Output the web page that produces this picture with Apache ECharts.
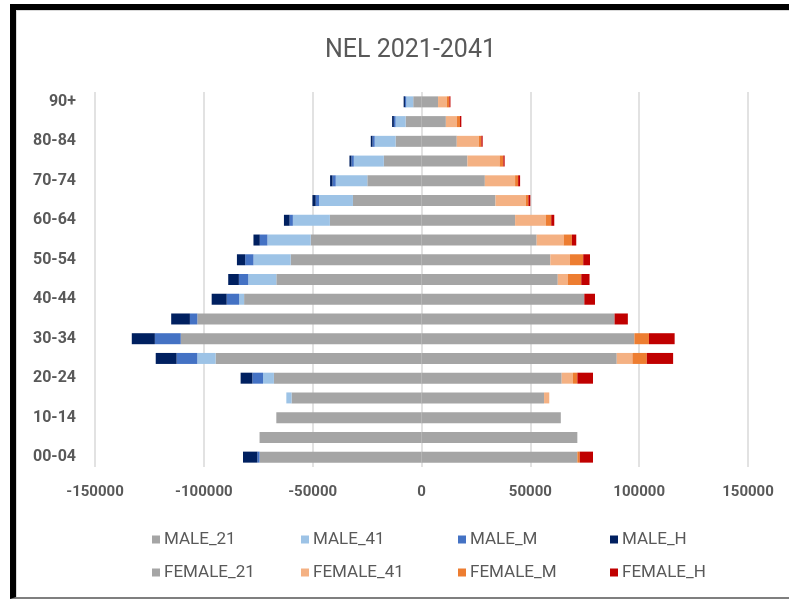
<!DOCTYPE html>
<html>
<head>
<meta charset="utf-8">
<script src="https://cdn.jsdelivr.net/npm/echarts@6/dist/echarts.min.js"></script>
<style>
  html, body { margin: 0; padding: 0; background: #fff; }
  #frame {
    position: absolute; left: 10px; top: 4px; width: 779px; height: 595px;
    border-left: 6px solid #000; border-top: 6px solid #000; border-bottom: 2px solid #7f7f7f;
    box-sizing: border-box;
  }
  #frame::after {
    content: ''; position: absolute; left: 0; top: 0; right: 0; bottom: 0;
    border-left: 1px solid #d9d9d9; border-top: 1px solid #d9d9d9;
  }
  #chart { position: absolute; left: 0; top: 0; width: 789px; height: 601px; }
</style>
</head>
<body>
<div id="frame"></div>
<div id="chart"></div>
<script>
// ── Datos (de 00-04 abajo a 90+ arriba) ─────────────────────────────────
const AGE_GROUPS = ['00-04', '05-09', '10-14', '15-19', '20-24', '25-29', '30-34', '35-39', '40-44',
  '45-49', '50-54', '55-59', '60-64', '65-69', '70-74', '75-79', '80-84', '85-89', '90+'];

const MALE_21 = [-74400, -74400, -66700, -59700, -67800, -94600, -110600, -103000, -81500,
  -66700, -60100, -50900, -42100, -31500, -24900, -17300, -11900, -7300, -3800];
const MALE_41 = [0, 0, 0, -2400, -5000, -8400, 0, 0, -2300,
  -12900, -17100, -19900, -17000, -15600, -14500, -13800, -9600, -4600, -3200];
const MALE_M = [-1000, 0, 0, 0, -4900, -9500, -11900, -3400, -5700,
  -4300, -3800, -3500, -1500, -1500, -1500, -1100, -1000, -800, -600];
const MALE_H = [-6600, 0, 0, 0, -5400, -9600, -10600, -8600, -6900,
  -4900, -3800, -2900, -2600, -1500, -1100, -900, -800, -800, -600];

const FEMALE_21 = [71600, 71600, 64000, 56300, 64400, 89700, 97800, 88700, 74800,
  62600, 59200, 52900, 43000, 34000, 29100, 21100, 16200, 11200, 7600];
const FEMALE_41 = [0, 0, 0, 2400, 5200, 7200, 0, 0, 0,
  4700, 9000, 12400, 14200, 13900, 13900, 14800, 10100, 5000, 4000];
const FEMALE_M = [1100, 0, 0, 0, 2000, 6600, 6700, 0, 0,
  6100, 6100, 3800, 2400, 1200, 1400, 1700, 1200, 1500, 1200];
const FEMALE_H = [6100, 0, 0, 0, 7200, 12100, 11800, 6100, 4900,
  3800, 3100, 2000, 1400, 900, 900, 600, 600, 600, 500];

const X_MIN = -150000, X_MAX = 150000, X_STEP = 50000;

// ── Estilo ──────────────────────────────────────────────────────────────
const FONT = "'Roboto', sans-serif";
const TEXT = '#595959';

const SERIES_DEF = [
  ['MALE_21', MALE_21, '#a5a5a5'],
  ['MALE_41', MALE_41, '#9dc3e6'],
  ['MALE_M', MALE_M, '#4472c4'],
  ['MALE_H', MALE_H, '#002060'],
  ['FEMALE_21', FEMALE_21, '#a5a5a5'],
  ['FEMALE_41', FEMALE_41, '#f4b183'],
  ['FEMALE_M', FEMALE_M, '#ed7d31'],
  ['FEMALE_H', FEMALE_H, '#c00000'],
];

// leyenda: 2 filas x 4 columnas, cada elemento en su propio componente
const LEGEND_COLS = [147, 296, 453, 605];
const LEGEND_ROWS = [526, 559];

const chart = echarts.init(document.getElementById('chart'), null, { renderer: 'canvas' });

chart.setOption({
  animation: false,
  textStyle: { fontFamily: FONT },
  title: {
    text: 'NEL 2021-2041',
    left: 320, top: 33,
    textStyle: { fontFamily: FONT, fontSize: 25, fontWeight: 'normal', color: TEXT },
  },
  legend: SERIES_DEF.map(([name], i) => ({
    data: [name],
    left: LEGEND_COLS[i % 4],
    top: LEGEND_ROWS[Math.floor(i / 4)],
    icon: 'rect',
    itemWidth: 8,
    itemHeight: 8,
    itemGap: 5,
    selectedMode: false,
    textStyle: { fontFamily: FONT, fontSize: 17, color: TEXT, padding: [0, 0, 0, -1] },
  })),
  grid: { left: 95, right: 41, top: 92, bottom: 134 },
  xAxis: {
    type: 'value',
    min: X_MIN, max: X_MAX, interval: X_STEP,
    axisLine: { show: false },
    axisTick: { show: false },
    axisLabel: {
      color: TEXT, fontSize: 15, fontWeight: 'bold', margin: 18, fontFamily: FONT,
      formatter: (v) => String(v),
    },
    splitLine: { lineStyle: { color: '#d9d9d9', width: 1.5 } },
  },
  yAxis: {
    type: 'category',
    data: AGE_GROUPS,
    axisLine: { show: false },
    axisTick: { show: false },
    axisLabel: { interval: 1, color: TEXT, fontSize: 16, fontWeight: 'bold', margin: 19, fontFamily: FONT },
  },
  series: SERIES_DEF.map(([name, data, color]) => ({
    name,
    type: 'bar',
    stack: 'pyramid',
    data,
    barWidth: 11,
    itemStyle: { color },
  })),
});
</script>
</body>
</html>
